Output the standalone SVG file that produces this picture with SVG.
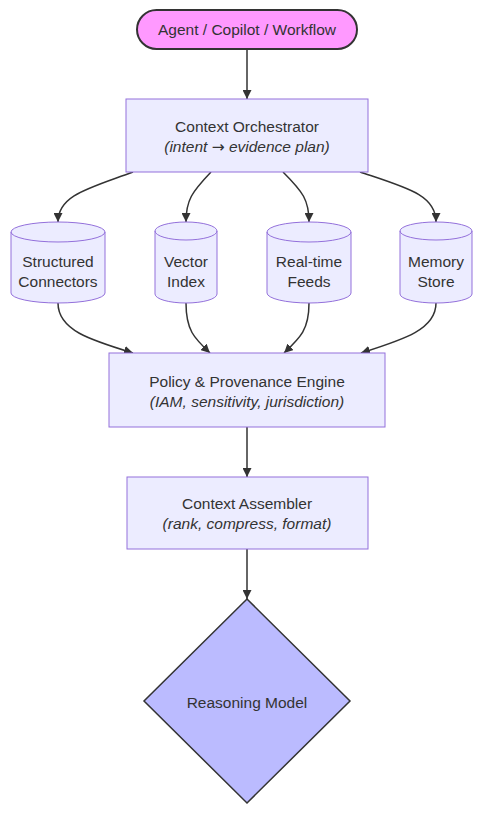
<svg xmlns="http://www.w3.org/2000/svg" width="481" height="814" viewBox="0 0 481 814">
<style>
.node{fill:#ECECFF;stroke:#9370DB;stroke-width:1}
.t{font-family:"Liberation Sans",Arial,sans-serif;font-size:15.5px;fill:#333;text-anchor:middle}
.i{font-style:italic}
.e{fill:none;stroke:#333;stroke-width:1.5}
</style>
<defs>
<marker id="arr" viewBox="0 0 10 10" refX="10" refY="5" markerUnits="userSpaceOnUse" markerWidth="9" markerHeight="9" orient="auto">
<path d="M0,0 L10,5 L0,10 z" fill="#333"/>
</marker>
</defs>
<rect width="481" height="814" fill="#fff"/>
<g id="connectors">
<path class="e" d="M247,49 L247,99" marker-end="url(#arr)"/>
<path class="e" d="M133,172 C90,188 58,195 58,222" marker-end="url(#arr)"/>
<path class="e" d="M211,172 C192,192 186,200 186,222" marker-end="url(#arr)"/>
<path class="e" d="M283,172 C303,192 309,200 309,222" marker-end="url(#arr)"/>
<path class="e" d="M360,172 C408,188 436,195 436,222" marker-end="url(#arr)"/>
<path class="e" d="M58,303 C58,330 90,340 133,353" marker-end="url(#arr)"/>
<path class="e" d="M186,303 C186,330 194,338 210,353" marker-end="url(#arr)"/>
<path class="e" d="M309,303 C309,330 300,338 284,353" marker-end="url(#arr)"/>
<path class="e" d="M436,303 C436,330 402,340 361,353" marker-end="url(#arr)"/>
<path class="e" d="M247,427 L247,477" marker-end="url(#arr)"/>
<path class="e" d="M247,549 L247,599" marker-end="url(#arr)"/>
</g>
<g id="agent">
<rect x="137" y="10" width="220" height="39" rx="19.5" fill="#FF99FF" stroke="#333" stroke-width="2"/>
<text class="t" x="247" y="35">Agent / Copilot / Workflow</text>
</g>
<g id="orchestrator">
<rect class="node" x="126" y="99" width="242" height="73"/>
<text class="t" x="247" y="132">Context Orchestrator</text>
<text class="t i" x="247" y="152">(intent <tspan font-family="DejaVu Sans">→</tspan> evidence plan)</text>
</g>
<g id="structured">
<path class="node" d="M11,232 a47,10 0 0,0 94,0 a47,10 0 0,0 -94,0 l0,61 a47,10 0 0,0 94,0 l0,-61"/>
<text class="t" x="58" y="267">Structured</text>
<text class="t" x="58" y="287">Connectors</text>
</g>
<g id="vector">
<path class="node" d="M155,231 a31,9 0 0,0 62,0 a31,9 0 0,0 -62,0 l0,63 a31,9 0 0,0 62,0 l0,-63"/>
<text class="t" x="186" y="267">Vector</text>
<text class="t" x="186" y="287">Index</text>
</g>
<g id="realtime">
<path class="node" d="M267,232 a42,10 0 0,0 84,0 a42,10 0 0,0 -84,0 l0,61 a42,10 0 0,0 84,0 l0,-61"/>
<text class="t" x="309" y="267">Real-time</text>
<text class="t" x="309" y="287">Feeds</text>
</g>
<g id="memory">
<path class="node" d="M400,231 a36,9 0 0,0 72,0 a36,9 0 0,0 -72,0 l0,63 a36,9 0 0,0 72,0 l0,-63"/>
<text class="t" x="436" y="267">Memory</text>
<text class="t" x="436" y="287">Store</text>
</g>
<g id="policy">
<rect class="node" x="109" y="353" width="276" height="74"/>
<text class="t" x="247" y="387">Policy &amp; Provenance Engine</text>
<text class="t i" x="247" y="407">(IAM, sensitivity, jurisdiction)</text>
</g>
<g id="assembler">
<rect class="node" x="127" y="477" width="241" height="72"/>
<text class="t" x="247" y="509">Context Assembler</text>
<text class="t i" x="247" y="529">(rank, compress, format)</text>
</g>
<g id="reasoning">
<polygon points="247,599 350,701 247,803 144,701" fill="#BBBBFF" stroke="#333" stroke-width="1.5"/>
<text class="t" x="247" y="708">Reasoning Model</text>
</g>
</svg>
